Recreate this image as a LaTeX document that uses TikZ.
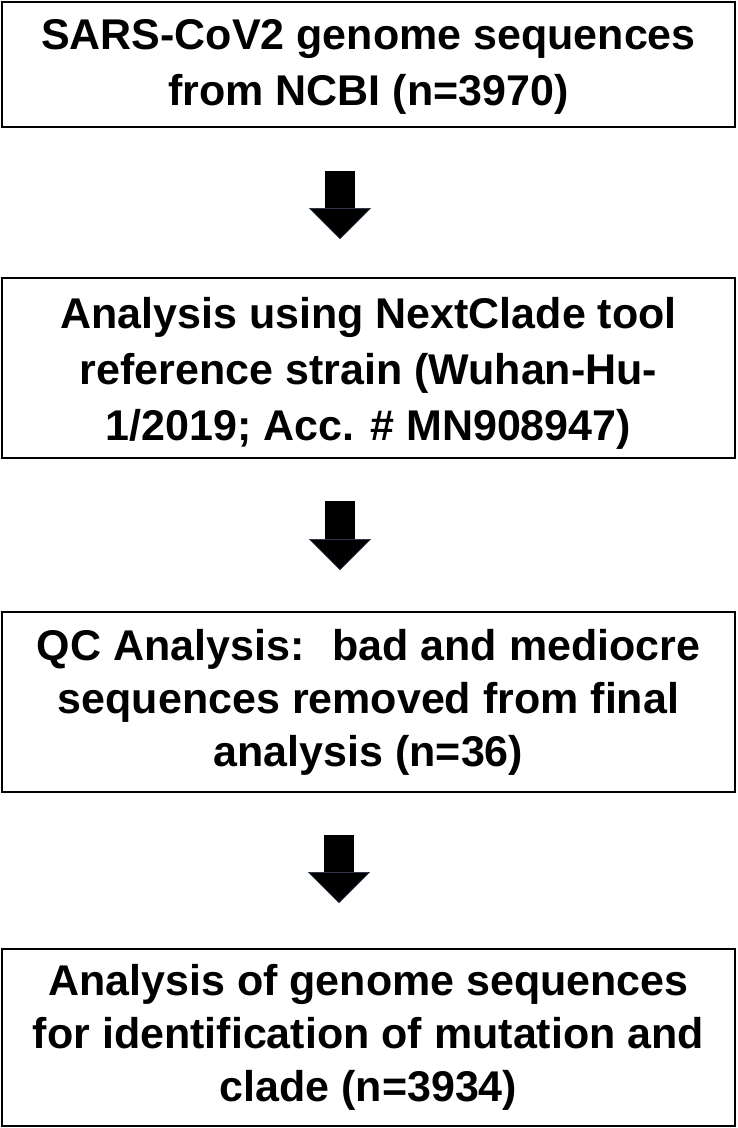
\documentclass[tikz,border=0pt]{standalone}
\usepackage{fontspec}
\setmainfont{Liberation Sans}
\usetikzlibrary{arrows.meta}
\definecolor{arrowedge}{HTML}{1B2540}
\begin{document}
\begin{tikzpicture}[x=1pt,y=1pt,
  box/.style={draw=black, line width=1.8pt, fill=white, minimum width=733pt,
    inner sep=0pt, align=center,
    font=\fontsize{43}{53}\selectfont\bfseries},
  widelines/.style={font=\fontsize{43}{56}\selectfont\bfseries},
  blockarrow/.style={line width=30pt, draw=black,
    -{Triangle[width=62pt,length=31pt,line width=0.6pt,color=arrowedge,fill=black]}}]
\useasboundingbox (0,0) rectangle (738,-1128);
\fill[white] (0,0) rectangle (738,-1128);
\node[box, widelines, minimum height=125pt] (b1) at (368.5,-64.5) {};
\node[widelines, align=center, inner sep=0pt] (t1) at (368.5,-66.5)
  {SARS-CoV2 genome sequences\\from NCBI (n=3970)};
\node[box, minimum height=180pt] (b2) at (368.5,-368) {};
\node[widelines, align=center, inner sep=0pt] (t2) at (368.5,-373)
  {Analysis using NextClade tool\\reference strain (Wuhan-Hu-\\1/2019; Acc. \# MN908947)};
\node[box, minimum height=180pt] (b3) at (368.5,-702)
  {QC Analysis:~ bad and mediocre\\sequences removed from final\\analysis (n=36)};
\node[box, minimum height=177pt] (b4) at (368.5,-1037.5)
  {Analysis of genome sequences\\for identification of mutation and\\clade (n=3934)};
\coordinate (a1s) at (340,-171);
\coordinate (a1e) at (340,-239);
\coordinate (a2s) at (340,-501);
\coordinate (a2e) at (340,-570);
\coordinate (a3s) at (339,-835);
\coordinate (a3e) at (339,-903);
\draw[blockarrow] (a1s) -- (a1e);
\draw[blockarrow] (a2s) -- (a2e);
\draw[blockarrow] (a3s) -- (a3e);
\end{tikzpicture}
\end{document}
